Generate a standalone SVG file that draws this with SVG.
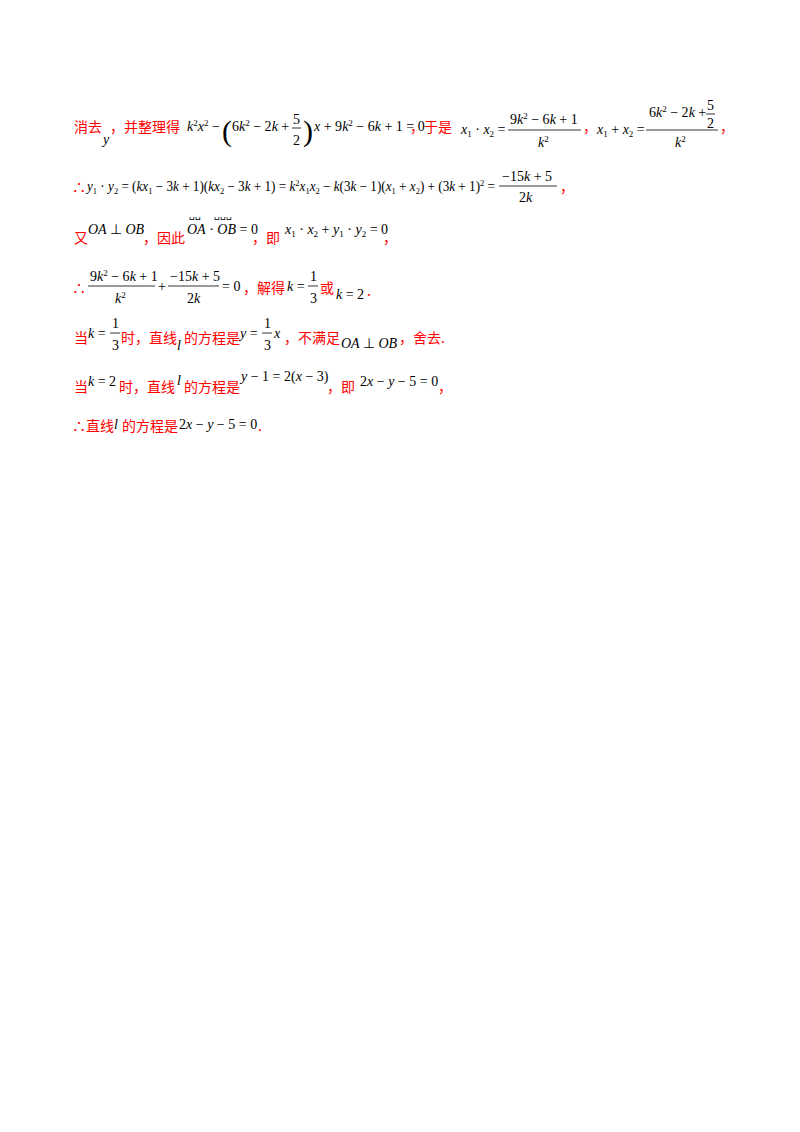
<svg xmlns="http://www.w3.org/2000/svg" width="800" height="1132" viewBox="0 0 800 1132">
<style>
.c{font-family:"Noto Sans CJK SC","Liberation Sans",sans-serif;font-size:14px;fill:#ff0000}
.m{font-family:"Liberation Serif","Times New Roman",serif;font-size:14px;fill:#000}
.i{font-style:italic}
.s{font-size:9px}
.p{font-family:"Liberation Serif",serif;font-size:30px;fill:#000}
.l{stroke:#000;stroke-width:0.8}
</style>
<rect width="800" height="1132" fill="#fff"/>
<g id="line1">
<text x="74" y="132" class="c">消去</text>
<text x="103" y="144" class="m i">y</text>
<text x="110" y="132" class="c">，并整理得</text>
<text x="187" y="131" class="m"><tspan class="i">k</tspan><tspan class="s" dy="-5">2</tspan><tspan class="i" dy="5">x</tspan><tspan class="s" dy="-5">2</tspan><tspan dy="5"> −</tspan></text>
<text x="222" y="141" class="p">(</text>
<text x="232" y="131" class="m">6<tspan class="i">k</tspan><tspan class="s" dy="-5">2</tspan><tspan dy="5"> − 2</tspan><tspan class="i">k</tspan> +</text>
<text x="293" y="124" class="m">5</text><line class="l" x1="292" y1="128" x2="301" y2="128"/><text x="293" y="145" class="m">2</text>
<text x="303" y="141" class="p">)</text>
<text x="314" y="131" class="m"><tspan class="i">x</tspan> + 9<tspan class="i">k</tspan><tspan class="s" dy="-5">2</tspan><tspan dy="5"> − 6</tspan><tspan class="i">k</tspan> + 1 = 0</text>
<text x="410" y="132" class="c">，于是</text>
<text x="461" y="134" class="m"><tspan class="i">x</tspan><tspan class="s" dy="3">1</tspan><tspan dy="-3"> · </tspan><tspan class="i">x</tspan><tspan class="s" dy="3">2</tspan><tspan dy="-3"> =</tspan></text>
<text x="510" y="124" class="m">9<tspan class="i">k</tspan><tspan class="s" dy="-5">2</tspan><tspan dy="5"> − 6</tspan><tspan class="i">k</tspan> + 1</text>
<line class="l" x1="508" y1="130" x2="581" y2="130"/>
<text x="538" y="147" class="m"><tspan class="i">k</tspan><tspan class="s" dy="-5">2</tspan></text>
<text x="583" y="132" class="c">，</text>
<text x="597" y="134" class="m"><tspan class="i">x</tspan><tspan class="s" dy="3">1</tspan><tspan dy="-3"> + </tspan><tspan class="i">x</tspan><tspan class="s" dy="3">2</tspan><tspan dy="-3"> =</tspan></text>
<text x="649" y="117" class="m">6<tspan class="i">k</tspan><tspan class="s" dy="-5">2</tspan><tspan dy="5"> − 2</tspan><tspan class="i">k</tspan> +</text>
<text x="707" y="110" class="m">5</text><line class="l" x1="706" y1="114" x2="715" y2="114"/><text x="707" y="128" class="m">2</text>
<line class="l" x1="646" y1="130" x2="718" y2="130"/>
<text x="675" y="147" class="m"><tspan class="i">k</tspan><tspan class="s" dy="-5">2</tspan></text>
<text x="720" y="132" class="c">，</text>
</g>
<g id="line2">
<text x="72" y="192" class="c">∴</text>
<text x="87" y="191" class="m" textLength="408" lengthAdjust="spacingAndGlyphs"><tspan class="i">y</tspan><tspan class="s" dy="3">1</tspan><tspan dy="-3"> · </tspan><tspan class="i">y</tspan><tspan class="s" dy="3">2</tspan><tspan dy="-3"> = (</tspan><tspan class="i">kx</tspan><tspan class="s" dy="3">1</tspan><tspan dy="-3"> − 3</tspan><tspan class="i">k</tspan> + 1)(<tspan class="i">kx</tspan><tspan class="s" dy="3">2</tspan><tspan dy="-3"> − 3</tspan><tspan class="i">k</tspan> + 1) = <tspan class="i">k</tspan><tspan class="s" dy="-5">2</tspan><tspan class="i" dy="5">x</tspan><tspan class="s" dy="3">1</tspan><tspan class="i" dy="-3">x</tspan><tspan class="s" dy="3">2</tspan><tspan dy="-3"> − </tspan><tspan class="i">k</tspan>(3<tspan class="i">k</tspan> − 1)(<tspan class="i">x</tspan><tspan class="s" dy="3">1</tspan><tspan dy="-3"> + </tspan><tspan class="i">x</tspan><tspan class="s" dy="3">2</tspan><tspan dy="-3">) + (3</tspan><tspan class="i">k</tspan> + 1)<tspan class="s" dy="-5">2</tspan><tspan dy="5"> =</tspan></text>
<text x="502" y="181" class="m">−15<tspan class="i">k</tspan> + 5</text>
<line class="l" x1="499" y1="186" x2="557" y2="186"/>
<text x="519" y="202" class="m">2<tspan class="i">k</tspan></text>
<text x="560" y="192" class="c">，</text>
</g>
<g id="line3">
<text x="74" y="243" class="c">又</text>
<text x="88" y="234" class="m i">OA <tspan font-style="normal">⊥</tspan> OB</text>
<text x="143" y="243" class="c">，因此</text>
<text x="187" y="234" class="m"><tspan class="i">OA</tspan> · <tspan class="i">OB</tspan> = 0</text>
<text x="189" y="218" class="m s">␣␣</text><text x="214" y="218" class="m s">␣␣␣</text>
<text x="252" y="243" class="c">，即</text>
<text x="285" y="234" class="m"><tspan class="i">x</tspan><tspan class="s" dy="3">1</tspan><tspan dy="-3"> · </tspan><tspan class="i">x</tspan><tspan class="s" dy="3">2</tspan><tspan dy="-3"> + </tspan><tspan class="i">y</tspan><tspan class="s" dy="3">1</tspan><tspan dy="-3"> · </tspan><tspan class="i">y</tspan><tspan class="s" dy="3">2</tspan><tspan dy="-3"> = 0</tspan></text>
<text x="383" y="243" class="c">，</text>
</g>
<g id="line4">
<text x="72" y="293" class="c">∴</text>
<text x="90" y="281" class="m">9<tspan class="i">k</tspan><tspan class="s" dy="-5">2</tspan><tspan dy="5"> − 6</tspan><tspan class="i">k</tspan> + 1</text>
<line class="l" x1="88" y1="286" x2="155" y2="286"/>
<text x="115" y="303" class="m"><tspan class="i">k</tspan><tspan class="s" dy="-5">2</tspan></text>
<text x="158" y="291" class="m">+</text>
<text x="170" y="281" class="m">−15<tspan class="i">k</tspan> + 5</text>
<line class="l" x1="168" y1="286" x2="219" y2="286"/>
<text x="187" y="303" class="m">2<tspan class="i">k</tspan></text>
<text x="222" y="291" class="m">= 0</text>
<text x="243" y="293" class="c">，解得</text>
<text x="287" y="291" class="m"><tspan class="i">k</tspan> =</text>
<text x="310" y="281" class="m">1</text><line class="l" x1="308" y1="286" x2="318" y2="286"/><text x="310" y="303" class="m">3</text>
<text x="320" y="293" class="c">或</text>
<text x="336" y="299" class="m"><tspan class="i">k</tspan> = 2</text>
<text x="367" y="296" class="c">.</text>
</g>
<g id="line5">
<text x="74" y="343" class="c">当</text>
<text x="88" y="338" class="m"><tspan class="i">k</tspan> =</text>
<text x="112" y="328" class="m">1</text><line class="l" x1="110" y1="333" x2="120" y2="333"/><text x="112" y="350" class="m">3</text>
<text x="121" y="343" class="c">时，直线</text>
<text x="177" y="350" class="m i">l</text>
<text x="184" y="343" class="c">的方程是</text>
<text x="240" y="338" class="m"><tspan class="i">y</tspan> =</text>
<text x="264" y="328" class="m">1</text><line class="l" x1="262" y1="333" x2="272" y2="333"/><text x="264" y="350" class="m">3</text>
<text x="274" y="338" class="m i">x</text>
<text x="284" y="343" class="c">，不满足</text>
<text x="341" y="348" class="m i">OA <tspan font-style="normal">⊥</tspan> OB</text>
<text x="399" y="343" class="c">，舍去.</text>
</g>
<g id="line6">
<text x="74" y="392" class="c">当</text>
<text x="88" y="386" class="m"><tspan class="i">k</tspan> = 2</text>
<text x="119" y="392" class="c">时，直线</text>
<text x="177" y="385" class="m i">l</text>
<text x="184" y="392" class="c">的方程是</text>
<text x="241" y="381" class="m"><tspan class="i">y</tspan> − 1 = 2(<tspan class="i">x</tspan> − 3)</text>
<text x="327" y="392" class="c">，即</text>
<text x="360" y="386" class="m">2<tspan class="i">x</tspan> − <tspan class="i">y</tspan> − 5 = 0</text>
<text x="438" y="392" class="c">，</text>
</g>
<g id="line7">
<text x="72" y="431" class="c">∴直线</text>
<text x="114" y="429" class="m i">l</text>
<text x="122" y="431" class="c">的方程是</text>
<text x="179" y="429" class="m">2<tspan class="i">x</tspan> − <tspan class="i">y</tspan> − 5 = 0</text>
<text x="258" y="431" class="c">.</text>
</g>
</svg>
